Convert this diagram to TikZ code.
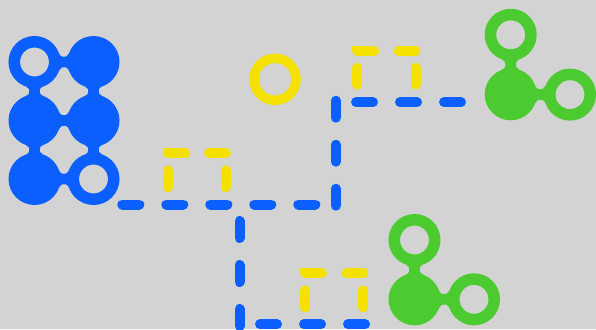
\documentclass[tikz,border=0pt]{standalone}
\definecolor{bgc}{HTML}{D3D3D3}
\definecolor{bblue}{HTML}{0B5FFF}
\definecolor{bgreen}{HTML}{4BCB30}
\definecolor{byellow}{HTML}{F5E100}
\newcommand\nkR{26}
\newcommand\nkw{5}
\newcommand\neckjoin[5]{%
  \pgfmathsetmacro\nkdx{#3-#1}%
  \pgfmathsetmacro\nkdy{#4-#2}%
  \pgfmathsetmacro\nkhd{veclen(\nkdx,\nkdy)/2}%
  \pgfmathsetmacro\nkang{atan2(-1*(\nkdy),\nkdx)}%
  \pgfmathsetmacro\nkf{(\nkhd*\nkhd+\nkw*\nkw-\nkR*\nkR)/(2*(\nkR-\nkw))}%
  \pgfmathsetmacro\nkh{\nkf+\nkw}%
  \pgfmathsetmacro\nkphi{atan2(\nkh,\nkhd)}%
  \pgfmathsetmacro\nks{\nkR/(\nkR+\nkf)}%
  \fill[#5, shift={(#1,#2)}, rotate=\nkang]
    ({\nks*\nkhd},{\nks*\nkh}) arc[start angle={180+\nkphi}, end angle={360-\nkphi}, radius=\nkf]
    -- ({(2-\nks)*\nkhd},{-\nks*\nkh}) arc[start angle={\nkphi}, end angle={180-\nkphi}, radius=\nkf]
    -- cycle;
}
\tikzset{
  filledball/.style={circle, fill=#1, minimum size=52pt, inner sep=0pt, outer sep=0pt},
  ringball/.style={circle, draw=#1, line width=11.5pt, minimum size=40.5pt, inner sep=0pt, outer sep=0pt},
  yring/.style={circle, draw=byellow, line width=9.5pt, minimum size=42pt, inner sep=0pt, outer sep=0pt},
  linkdash/.style={draw=bblue, line width=10pt, line cap=round, dash pattern=on 17pt off 27pt},
  bracketdash/.style={draw=byellow, line width=10pt, line cap=round,
    dash pattern={on 17pt off 17pt on 17pt off #1pt on 17pt off 17pt on 17pt off 300pt}},
}
\begin{document}
\begin{tikzpicture}[x=1pt,y=-1pt]
\fill[bgc] (0,0) rectangle (596,329);
\useasboundingbox (0,0) rectangle (596,329);

% blue dashed links
\coordinate (h1s) at (122.3,204.5);
\coordinate (h1e) at (315.3,204.5);
\coordinate (v1s) at (335.7,205.7);
\coordinate (v1e) at (335.7,100.5);
\coordinate (h2s) at (356,102.3);
\coordinate (h2e) at (461,102.3);
\coordinate (v2s) at (239.5,221);
\coordinate (v2e) at (239.5,326);
\coordinate (h3s) at (260,324.3);
\coordinate (h3e) at (365,324.3);
\draw[linkdash] (h1s) -- (h1e);
\draw[linkdash] (v1s) -- (v1e);
\draw[linkdash] (h2s) -- (h2e);
\draw[linkdash] (v2s) -- (v2e);
\draw[linkdash] (h3s) -- (h3e);

% yellow dashed brackets
\coordinate (ya1) at (357.3,84.7);
\coordinate (ya2) at (357.3,50.7);
\coordinate (ya3) at (415.7,50.7);
\coordinate (ya4) at (415.7,84.7);
\draw[bracketdash=24.4] (ya1) -- (ya2) -- (ya3) -- (ya4);
\coordinate (yb1) at (168.3,187.3);
\coordinate (yb2) at (168.3,153.3);
\coordinate (yb3) at (226,153.3);
\coordinate (yb4) at (226,187.3);
\draw[bracketdash=23.7] (yb1) -- (yb2) -- (yb3) -- (yb4);
\coordinate (yc1) at (305,307.3);
\coordinate (yc2) at (305,273.3);
\coordinate (yc3) at (363.3,273.3);
\coordinate (yc4) at (363.3,307.3);
\draw[bracketdash=24.3] (yc1) -- (yc2) -- (yc3) -- (yc4);

% yellow ring
\node[yring] (yr) at (275,79.3) {};

% blue cluster
\node[ringball=bblue] (b11) at (34.5,62) {};
\node[filledball=bblue] (b12) at (93.5,62) {};
\node[filledball=bblue] (b21) at (34.5,120.5) {};
\node[filledball=bblue] (b22) at (93.5,120.5) {};
\node[filledball=bblue] (b31) at (34.5,179) {};
\node[ringball=bblue] (b32) at (93.5,179) {};
\neckjoin{34.5}{62}{93.5}{62}{bblue}
\neckjoin{34.5}{120.5}{93.5}{120.5}{bblue}
\neckjoin{34.5}{179}{93.5}{179}{bblue}
\neckjoin{34.5}{62}{34.5}{120.5}{bblue}
\neckjoin{34.5}{120.5}{34.5}{179}{bblue}
\neckjoin{93.5}{62}{93.5}{120.5}{bblue}
\neckjoin{93.5}{120.5}{93.5}{179}{bblue}

% green cluster, lower
\node[ringball=bgreen] (g1t) at (414.5,240) {};
\node[filledball=bgreen] (g1c) at (414.5,299.3) {};
\node[ringball=bgreen] (g1r) at (474,299.3) {};
\neckjoin{414.5}{240}{414.5}{299.3}{bgreen}
\neckjoin{414.5}{299.3}{474}{299.3}{bgreen}

% green cluster, upper
\node[ringball=bgreen] (g2t) at (510.7,34.8) {};
\node[filledball=bgreen] (g2c) at (510.7,94.3) {};
\node[ringball=bgreen] (g2r) at (570,94.6) {};
\neckjoin{510.7}{34.8}{510.7}{94.3}{bgreen}
\neckjoin{510.7}{94.3}{570}{94.6}{bgreen}
\end{tikzpicture}
\end{document}
